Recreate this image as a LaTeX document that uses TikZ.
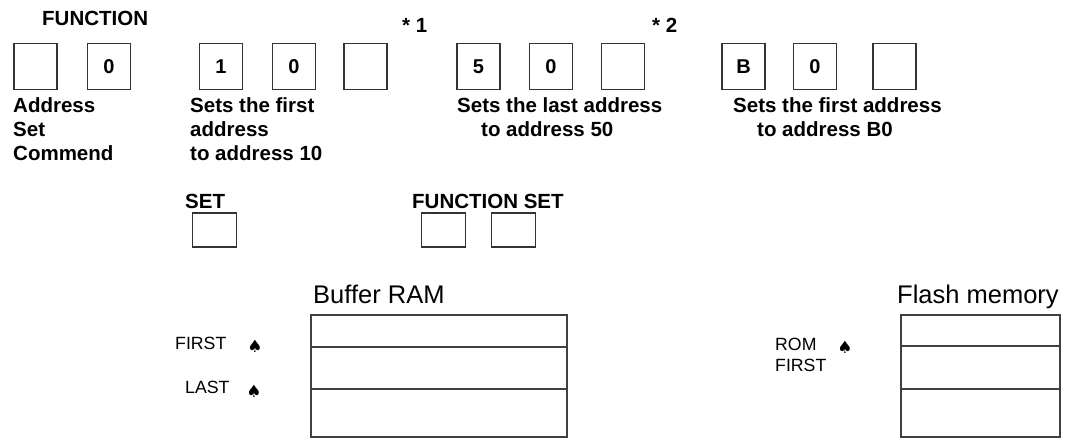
\documentclass[tikz,border=0pt]{standalone}
\usepackage{fontspec}
\setmainfont{Liberation Sans}
\newfontfamily\symfont{DejaVu Sans}
\usepackage{tikz}
\usetikzlibrary{positioning}
\tikzset{
  key box/.style={
    draw=black!80,line width=1.3pt,
    minimum width=43pt,minimum height=46pt,inner sep=0pt,
    font=\fontsize{20}{20}\selectfont\bfseries
  },
  low key/.style={
    key box,minimum width=44pt,minimum height=34pt
  },
  note text/.style={
    anchor=north west,inner sep=0pt,align=left,
    font=\fontsize{20.5}{24}\selectfont\bfseries
  },
  head text/.style={
    anchor=base west,inner sep=0pt,
    font=\fontsize{20.5}{24}\selectfont\bfseries
  },
  mem title/.style={
    anchor=base west,inner sep=0pt,
    font=\fontsize{25.5}{28}\selectfont
  },
  ptr text/.style={
    anchor=base west,inner sep=0pt,align=left,
    font=\fontsize{17.7}{21}\selectfont
  },
  ptr mark/.style={
    inner sep=0pt,font=\symfont\fontsize{17}{17}\selectfont
  },
  mem box/.style={
    draw=black!75,line width=1.7pt,inner sep=0pt
  },
  mem line/.style={
    draw=black!75,line width=1.7pt
  }
}
\begin{document}
\begin{tikzpicture}[x=1pt,y=-1pt]
  \useasboundingbox (0,0) rectangle (1067,439);

  % key row
  \foreach \x/\t [count=\i] in {35.5/{},109/0,221/1,294/0,365.5/{},
      478.5/5,551/0,623/{},743.5/B,815/0,894.5/{}}
    \node[key box] (k\i) at (\x,66.5) {\t};

  \node[head text] (fn) at (42,25) {FUNCTION};
  \node[head text] (n1) at (402,32) {* 1};
  \node[head text] (n2) at (652,32) {* 2};

  \node[note text] (addr) at (13,97) {Address\\Set\\Commend};
  \node[note text] (first10) at (190,97) {Sets the first\\address\\to address 10};
  \node[note text] (last50) at (457,97)
    {Sets the last address\\\hspace*{24pt}to address 50};
  \node[note text] (firstB0) at (733,97)
    {Sets the first address\\\hspace*{24pt}to address B0};

  % set keys
  \node[head text] (setlbl) at (185,208) {SET};
  \node[head text] (fslbl) at (412,208) {FUNCTION SET};
  \node[low key] (set) at (214.5,230) {};
  \node[low key] (fs1) at (443.5,230) {};
  \node[low key] (fs2) at (513.5,230) {};

  % buffer RAM
  \node[mem title] (ramlbl) at (313,303) {Buffer RAM};
  \node[mem box,minimum width=256pt,minimum height=122pt] (ram) at (439,376) {};
  \draw[mem line] (ram.west |- 0,347) -- (ram.east |- 0,347);
  \draw[mem line] (ram.west |- 0,389) -- (ram.east |- 0,389);
  \node[ptr text] (first) at (175,349) {FIRST};
  \node[ptr text] (last) at (185,393) {LAST};
  \node[ptr mark] (pf) at (255,346) {♠};
  \node[ptr mark] (pl) at (254,391) {♠};

  % flash memory
  \node[mem title] (romlbl) at (897,303) {Flash memory};
  \node[mem box,minimum width=159pt,minimum height=122pt] (rom) at (980.5,376) {};
  \draw[mem line] (rom.west |- 0,346) -- (rom.east |- 0,346);
  \draw[mem line] (rom.west |- 0,389) -- (rom.east |- 0,389);
  \node[ptr text] (romfirst) at (775,371) {ROM\\FIRST};
  \node[ptr mark] (pr) at (845,347) {♠};
\end{tikzpicture}
\end{document}
